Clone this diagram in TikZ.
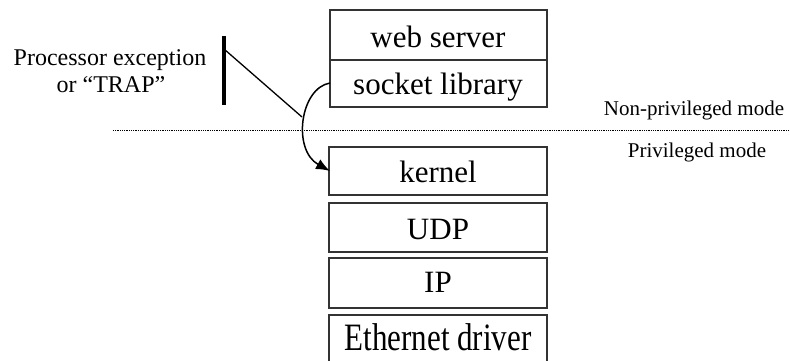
\documentclass[tikz,border=0pt]{standalone}
\usepackage{fontspec}
\setmainfont{Liberation Serif}
\usetikzlibrary{arrows.meta}
\begin{document}
\begin{tikzpicture}[x=1pt,y=-1pt,
  boxline/.style={draw=black!80,line width=1.5pt},
  big/.style={font=\fontsize{31}{36}\selectfont,anchor=base,inner sep=0pt},
  small/.style={font=\fontsize{21}{25}\selectfont,anchor=base,inner sep=0pt},
  mid/.style={font=\fontsize{24}{28}\selectfont,anchor=base,inner sep=0pt}]
\useasboundingbox (0,0) rectangle (790,360);
% boxes
\draw[boxline] (330,10) rectangle (547,107);
\draw[boxline] (330,60) -- (547,60);
\draw[boxline] (329,147) rectangle (547,195);
\draw[boxline] (329,203) rectangle (547,252);
\draw[boxline] (329,258) rectangle (547,308);
\draw[boxline] (329,370) -- (329,315) -- (547,315) -- (547,370);
% texts
\node[big] (web) at (438,47) {web server};
\node[big] (sock) at (438,94) {socket library};
\node[big] (kern) at (438,182) {kernel};
\node[big] (udp) at (438,239) {UDP};
\node[big] (ip) at (438,292) {IP};
\node[big] (eth) at (438,350) {\scalebox{1}[1.25]{Ethernet driver}};
\node[mid] (pe1) at (110,65) {Processor exception};
\node[mid] (pe2) at (111,92) {or “TRAP”};
\node[small] (np) at (694,115) {Non-privileged mode};
\node[small] (pm) at (697,157) {Privileged mode};
% mode separator
\coordinate (dl) at (113,130);
\coordinate (dr) at (790,130);
\draw[line width=0.7pt,dash pattern=on 0.8pt off 1pt] (dl) -- (dr);
% trap marker
\coordinate (bt) at (224,36);
\coordinate (bb) at (224,105);
\coordinate (d1) at (224,49);
\coordinate (d2) at (302,117);
\draw[line width=3.5pt] (bt) -- (bb);
\draw[line width=1.3pt] (d1) -- (d2);
% trap arrow
\coordinate (cs) at (330,83);
\coordinate (ce) at (330,171);
\draw[line width=1.5pt,-{Latex[length=14pt,width=11pt]}] (cs) .. controls (300,88) and (292,150) .. (ce);
\end{tikzpicture}
\end{document}
